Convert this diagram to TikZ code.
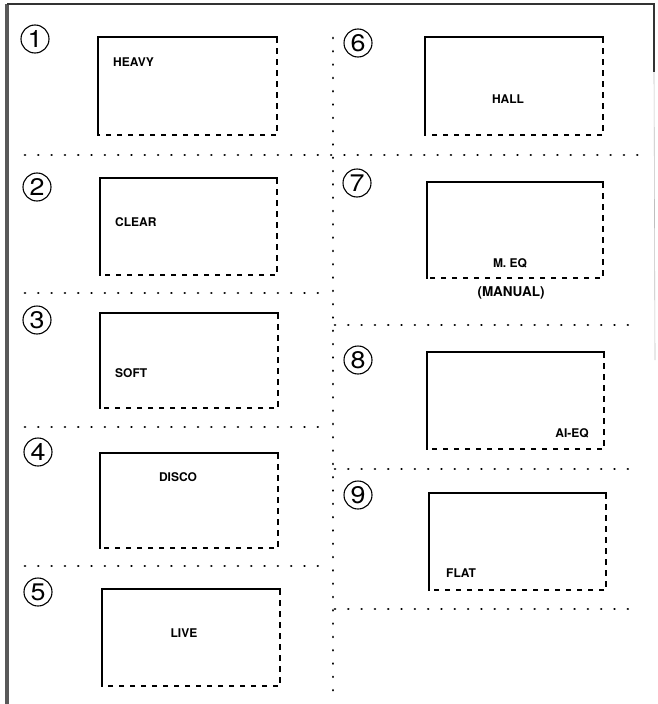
\documentclass[tikz,border=0pt]{standalone}
\usepackage{fontspec}
\setmainfont{TeX Gyre Heros}
\newfontfamily\numfont[FakeStretch=1.12]{TeX Gyre Heros}
\begin{document}
\begin{tikzpicture}[x=1pt,y=-1pt,
  solidedge/.style={line width=1.5pt,line cap=rect},
  dashedge/.style={line width=1.2pt,dash pattern=on 5.5pt off 5.5pt},
  dotline/.style={line width=2.7pt,line cap=round,dash pattern=on 0.01pt off 13.3pt},
  numc/.style={circle,draw,line width=1.1pt,inner sep=0pt,minimum size=28pt,font=\numfont\fontsize{24}{24}\selectfont},
  lbl/.style={inner sep=0pt,text depth=0pt,font=\bfseries\fontsize{12}{13}\selectfont},
  frame/.style={line width=2pt,black!80}]
\useasboundingbox (0,0) rectangle (657,704);
% outer frame
\coordinate (ftl) at (7,4); \coordinate (fbl) at (7,704);
\coordinate (ftr) at (654,4); \coordinate (fmr) at (654,72); \coordinate (flr) at (655,360);
\draw[line width=3.5pt,black!65] (fbl) -- (ftl);
\draw[frame] (ftl) -- (ftr) -- (fmr);
\draw[line width=0.6pt,black!25] (fmr) -- (flr);
% dotted dividers
\draw[dotline] (333,38) -- (333,692);
\draw[dotline] (25,155) -- (645,155);
\draw[dotline] (25,293) -- (322,293);
\draw[dotline] (25,427) -- (322,427);
\draw[dotline] (25,566) -- (322,566);
\draw[dotline] (335,325) -- (630,325);
\draw[dotline] (335,469) -- (630,469);
\draw[dotline] (335,609) -- (630,609);
% boxes
\newcommand\eqbox[5]{%
  \coordinate (#1-nw) at (#2,#3); \coordinate (#1-ne) at (#4,#3);
  \coordinate (#1-se) at (#4,#5); \coordinate (#1-sw) at (#2,#5);
  \draw[solidedge] (#1-sw) -- (#1-nw) -- (#1-ne);
  \draw[dashedge] (#1-ne) -- (#1-se) -- (#1-sw);}
\eqbox{b1}{98}{37}{277}{135}
\eqbox{b2}{100}{178}{277}{275}
\eqbox{b3}{100}{313}{278}{408}
\eqbox{b4}{100}{453}{278}{548}
\eqbox{b5}{102}{589}{280}{686}
\eqbox{b6}{425}{37}{603}{135}
\eqbox{b7}{427}{182}{603}{278}
\eqbox{b8}{427}{352}{604}{449}
\eqbox{b9}{429}{493}{606}{590}
% numbers
\node[numc] (n1) at (35,39) {1};
\node[numc] (n2) at (37,187) {2};
\node[numc] (n3) at (37,320) {3};
\node[numc] (n4) at (38,452) {4};
\node[numc] (n5) at (38,592) {5};
\node[numc] (n6) at (358,43) {6};
\node[numc] (n7) at (357,183) {7};
\node[numc] (n8) at (358,360) {8};
\node[numc] (n9) at (358,495) {9};
% labels
\node[lbl,anchor=west] (l1) at (113,62) {HEAVY};
\node[lbl,anchor=west] (l2) at (115,222) {CLEAR};
\node[lbl,anchor=west] (l3) at (115,373) {SOFT};
\node[lbl] (l4) at (178,477) {DISCO};
\node[lbl] (l5) at (184,633) {LIVE};
\node[lbl] (l6) at (508,99) {HALL};
\node[lbl] (l7) at (510,263) {M. EQ};
\node[lbl,font=\bfseries\fontsize{13.5}{14}\selectfont] (l7b) at (511,292) {(MANUAL)};
\node[lbl] (l8) at (572,433) {AI-EQ};
\node[lbl,anchor=west] (l9) at (446,573) {FLAT};
\end{tikzpicture}
\end{document}
